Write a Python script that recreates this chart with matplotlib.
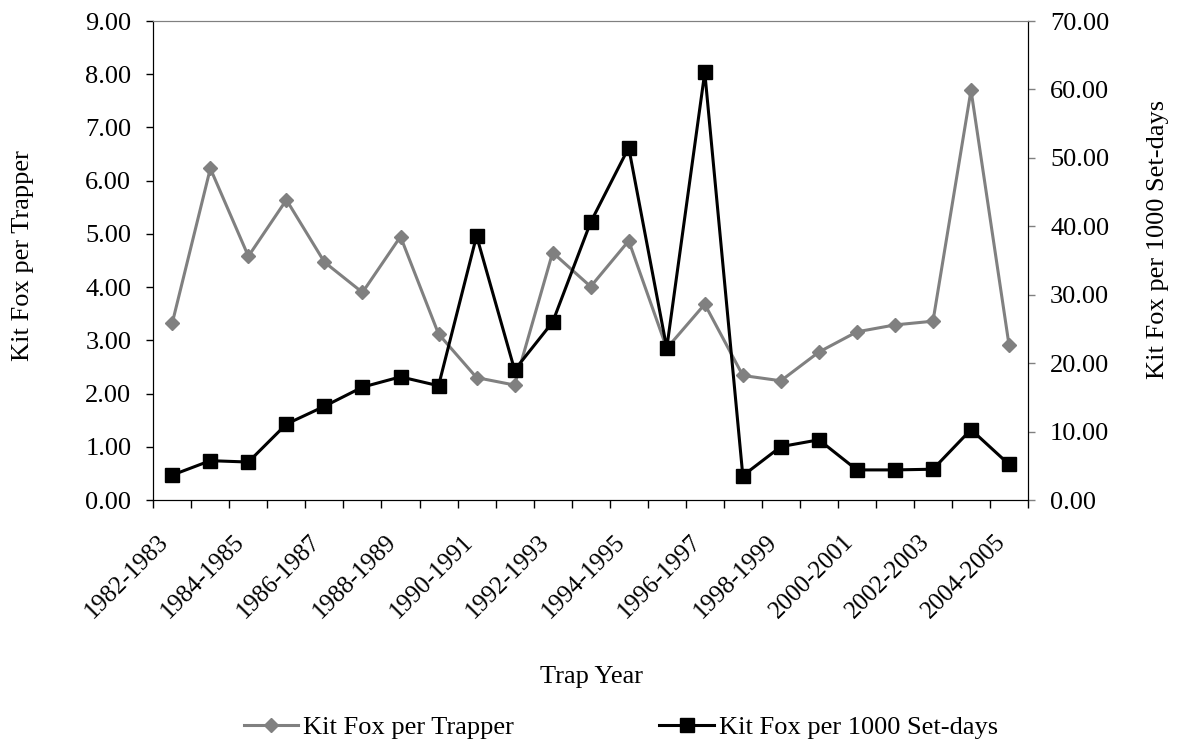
import matplotlib
matplotlib.use('Agg')
import matplotlib.pyplot as plt
from matplotlib.lines import Line2D
from matplotlib.transforms import ScaledTranslation

## data
years = ['1982-1983', '1983-1984', '1984-1985', '1985-1986', '1986-1987', '1987-1988',
         '1988-1989', '1989-1990', '1990-1991', '1991-1992', '1992-1993', '1993-1994',
         '1994-1995', '1995-1996', '1996-1997', '1997-1998', '1998-1999', '1999-2000',
         '2000-2001', '2001-2002', '2002-2003', '2003-2004', '2004-2005']
per_trapper = [3.33, 6.23, 4.58, 5.64, 4.47, 3.90, 4.95, 3.12, 2.30, 2.16, 4.65, 4.01,
               4.87, 2.85, 3.68, 2.34, 2.24, 2.78, 3.16, 3.29, 3.36, 7.70, 2.91]
per_setdays = [3.65, 5.75, 5.55, 11.1, 13.7, 16.5, 18.0, 16.7, 38.6, 19.0, 26.0, 40.6,
               51.5, 22.2, 62.5, 3.55, 7.8, 8.8, 4.4, 4.4, 4.5, 10.3, 5.2]

gray = '#808080'
plt.rcParams['font.family'] = ['Liberation Serif', 'DejaVu Serif']
plt.rcParams['font.size'] = 19

fig = plt.figure(figsize=(11.81, 7.51), dpi=100)
ax = fig.add_axes([0.1298, 0.3342, 0.8705 - 0.1298, 0.972 - 0.3342])
ax2 = ax.twinx()

x = list(range(len(years)))
ax.plot(x, per_trapper, color=gray, lw=2.2, marker='D', ms=7, mec=gray, mfc=gray,
        clip_on=False)
ax2.plot(x, per_setdays, color='black', lw=2.2, marker='s', ms=10, mec='black', mfc='black',
         clip_on=False)

## axes limits / ticks
ax.set_xlim(-0.5, len(years) - 0.5)
ax.set_ylim(0, 9)
ax2.set_ylim(0, 70)
ax.set_yticks(range(0, 10))
ax.set_yticklabels([f'{v:.2f}' for v in range(0, 10)])
ax2.set_yticks(range(0, 80, 10))
ax2.set_yticklabels([f'{v:.2f}' for v in range(0, 80, 10)])

## category boundary ticks, labels every second year
ax.set_xticks([i - 0.5 for i in range(len(years) + 1)])
ax.set_xticklabels([])
ax.set_xticks(x[::2], minor=True)
ax.set_xticklabels(years[::2], minor=True, rotation=45, ha='right', va='top',
                   rotation_mode='anchor', fontsize=18)
ax.tick_params(axis='x', which='minor', length=0, pad=22)
ax.tick_params(axis='x', which='major', length=6, width=1, direction='out')
ax.tick_params(axis='y', length=4.8, width=1, direction='out', pad=11)
ax2.tick_params(axis='y', length=4.8, width=1, direction='out', pad=11, color=gray)
## nudge the slanted labels left so their end sits just before the category centre
shift = ScaledTranslation(-0.15, 0, fig.dpi_scale_trans)
for lab in ax.get_xticklabels(minor=True):
    lab.set_transform(lab.get_transform() + shift)

for a in (ax, ax2):
    a.spines['top'].set_color(gray)
    a.spines['left'].set_color('black')
    a.spines['bottom'].set_color('black')
    a.spines['right'].set_color('black')

ax.set_ylabel('Kit Fox per Trapper', va='center')
ax.yaxis.set_label_coords(-0.149, 0.511)
ax2.set_ylabel('Kit Fox per 1000 Set-days', va='center')
ax2.yaxis.set_label_coords(1.1486, 0.543)
fig.text(592 / 1181, 1 - 677 / 751, 'Trap Year', ha='center', va='center')

handles = [Line2D([], [], color=gray, lw=2.2, marker='D', ms=7),
           Line2D([], [], color='black', lw=2.2, marker='s', ms=10)]
fig.legend(handles, ['Kit Fox per Trapper', 'Kit Fox per 1000 Set-days'],
           ncol=2, frameon=False, loc='center', bbox_to_anchor=(621 / 1181, 1 - 727 / 751),
           handlelength=2.08, handletextpad=0.19, columnspacing=5.5)

fig.savefig('out.png', dpi=100)
